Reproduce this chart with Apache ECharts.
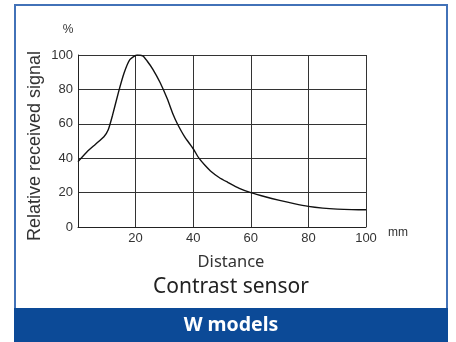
<!DOCTYPE html>
<html>
<head>
<meta charset="utf-8">
<script src="https://cdn.jsdelivr.net/npm/echarts@6/dist/echarts.min.js"></script>
<style>html,body{margin:0;padding:0;background:#fff}#c{width:456px;height:342px}</style>
</head>
<body>
<div id="c"></div>
<script>
var distance = [0, 3, 6, 9, 10.5, 12, 14, 16, 18, 20.5, 22.5, 24, 26, 28.5, 31, 33, 34.5, 37, 40, 42, 44, 46, 49, 52, 56, 60, 65, 70, 75, 80, 85, 90, 95, 100];
var signal = [38, 43.5, 48, 52.5, 56.5, 65, 78, 89.5, 97.3, 100, 99.5, 96.5, 91.7, 84, 74.5, 65.5, 60, 52.5, 45.5, 40, 36, 32.6, 28.8, 26, 22.5, 20, 17.6, 15.5, 13.6, 12, 11, 10.4, 10.1, 10];
var yTicks = [0, 20, 40, 60, 80, 100];
var xTicks = [20, 40, 60, 80, 100];

var chart = echarts.init(document.getElementById('c'), null, {renderer: 'canvas'});
var pts = distance.map(function (d, i) { return [d, signal[i]]; });
chart.setOption({
  animation: false,
  grid: {left: 78, right: 90, top: 55, bottom: 115},
  xAxis: {
    type: 'value', min: 0, max: 100, interval: 20,
    name: 'mm', nameLocation: 'end', nameGap: 22,
    nameTextStyle: {color: '#333', fontSize: 12, fontFamily: 'Liberation Sans', padding: [0, 0, 20, 0], verticalAlign: 'top'},
    axisLine: {lineStyle: {color: '#222', width: 1}},
    axisTick: {show: false},
    axisLabel: {color: '#333', fontSize: 13, fontFamily: 'Liberation Sans', margin: 5,
      formatter: function (v) { return xTicks.indexOf(v) >= 0 ? String(v) : ''; }},
    splitLine: {show: true, lineStyle: {color: '#333', width: 1}}
  },
  yAxis: {
    type: 'value', min: 0, max: 100, interval: 20,
    axisLine: {show: true, lineStyle: {color: '#222', width: 1}},
    axisTick: {show: false},
    axisLabel: {color: '#333', fontSize: 13, fontFamily: 'Liberation Sans', margin: 5,
      formatter: function (v) { return yTicks.indexOf(v) >= 0 ? String(v) : ''; }},
    splitLine: {show: true, lineStyle: {color: '#333', width: 1}}
  },
  series: [{
    type: 'line', data: pts, smooth: 0.2, showSymbol: false,
    lineStyle: {color: '#111', width: 1.4}
  }],
  graphic: [
    {type: 'rect', shape: {x: 15, y: 5, width: 432, height: 304}, style: {fill: 'none', stroke: '#4272b8', lineWidth: 2}},
    {type: 'rect', shape: {x: 14, y: 308, width: 434, height: 34}, style: {fill: '#0c4a97'}},
    {type: 'text', x: 35, y: 146, rotation: Math.PI / 2, style: {text: 'Relative received signal', fill: '#333', font: '18px "Liberation Sans"', textAlign: 'center', textVerticalAlign: 'middle'}},
    {type: 'text', x: 68, y: 30, style: {text: '%', fill: '#333', font: '12px "Liberation Sans"', textAlign: 'center', textVerticalAlign: 'middle'}},
    {type: 'text', x: 231, y: 262, style: {text: 'Distance', fill: '#333', font: '16.5px "Noto Sans"', textAlign: 'center', textVerticalAlign: 'middle'}},
    {type: 'text', x: 231, y: 287, style: {text: 'Contrast sensor', fill: '#222', font: '21px "Noto Sans"', textAlign: 'center', textVerticalAlign: 'middle'}},
    {type: 'text', x: 231, y: 325, style: {text: 'W models', fill: '#fff', font: 'bold 19.5px "Noto Sans"', textAlign: 'center', textVerticalAlign: 'middle'}}
  ]
});
</script>
</body>
</html>
